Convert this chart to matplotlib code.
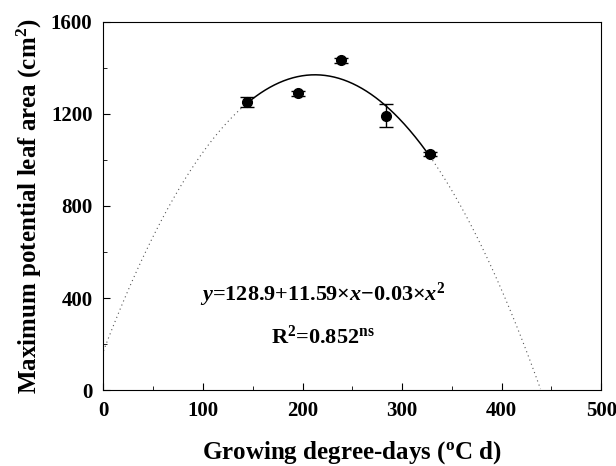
import numpy as np
import matplotlib
matplotlib.use("Agg")
import matplotlib.pyplot as plt
from matplotlib.ticker import MultipleLocator

plt.rcParams['font.family'] = 'Liberation Serif'
plt.rcParams['font.weight'] = 'bold'
plt.rcParams['mathtext.fontset'] = 'custom'
plt.rcParams['mathtext.rm'] = 'Liberation Serif:bold'
plt.rcParams['mathtext.it'] = 'Liberation Serif:bold:italic'
plt.rcParams['mathtext.bf'] = 'Liberation Serif:bold'

# data
gdd = [144, 195, 239, 284, 328]
leaf_area = [1250, 1290, 1433, 1193, 1025]
err = [22, 10, 10, 50, 8]
# fitted curve (as drawn)
coef_a, coef_b, coef_c = 170.0, 11.3, -0.0266
fit_solid_range = (144, 328)
fit_full_range = (0, 439)

fig = plt.figure(figsize=(6.16, 4.66), dpi=100)
ax = fig.add_axes([0.168, 0.163, 0.808, 0.790])

def f(x):
    return coef_a + coef_b * x + coef_c * x ** 2

xd1 = np.linspace(fit_full_range[0], fit_solid_range[0], 100)
xd2 = np.linspace(fit_solid_range[1], fit_full_range[1], 100)
xs = np.linspace(fit_solid_range[0], fit_solid_range[1], 200)
ax.plot(xd1, f(xd1), linestyle=(0, (1, 3)), color='#555555', lw=0.8)
ax.plot(xd2, f(xd2), linestyle=(0, (1, 3)), color='#555555', lw=0.8)
ax.plot(xs, f(xs), color='black', lw=1.1)

ax.errorbar(gdd, leaf_area, yerr=err, fmt='o', color='black', ms=7,
            capsize=5, elinewidth=1, capthick=1)

ax.set_xlim(0, 500)
ax.set_ylim(0, 1600)
ax.xaxis.set_major_locator(MultipleLocator(100))
ax.xaxis.set_minor_locator(MultipleLocator(50))
ax.yaxis.set_major_locator(MultipleLocator(400))
ax.yaxis.set_minor_locator(MultipleLocator(200))
ax.tick_params(which='both', direction='in', top=False, right=False)
ax.tick_params(which='major', length=5, labelsize=15, pad=8)
ax.tick_params(which='minor', length=3)
for lab in ax.get_xticklabels() + ax.get_yticklabels():
    lab.set_fontweight('bold')

ax.set_xlabel('Growing degree-days ($\\mathregular{^o}$C d)', fontsize=18,
              fontweight='bold', labelpad=13)
ax.set_ylabel('Maximum potential leaf area (cm$\\mathregular{^2}$)', fontsize=18,
              fontweight='bold', labelpad=5)

ax.text(220, 415, '$y$=128.9+11.59$\\times$$x$$-$0.03$\\times$$x^2$',
        ha='center', va='center', fontsize=16, fontweight='bold')
ax.text(220, 228, 'R$^2$=0.852$^{\\mathregular{ns}}$', ha='center', va='center',
        fontsize=16, fontweight='bold')

fig.savefig('out.png', dpi=100)
